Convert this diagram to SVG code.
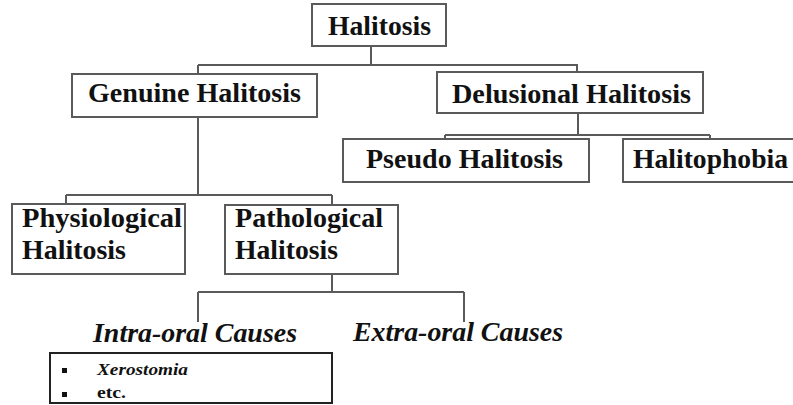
<svg xmlns="http://www.w3.org/2000/svg" width="793" height="405" viewBox="0 0 793 405">
<style>
.box{fill:#fff;stroke:#5a5a5a;stroke-width:2}
.t{font-family:'Liberation Serif','DejaVu Serif','Times New Roman',serif;font-weight:bold;font-size:27px;fill:#111}
.it{font-family:'Liberation Serif','DejaVu Serif','Times New Roman',serif;font-weight:bold;font-style:italic;font-size:27px;fill:#111}
.c{fill:none;stroke:#5a5a5a;stroke-width:2}
.s{font-family:'Liberation Serif','DejaVu Serif','Times New Roman',serif;font-size:16px;fill:#111}
</style>
<rect width="793" height="405" fill="#fff"/>
<g id="connectors">
<path class="c" d="M371 46V65M198 65H577V72M198 65V74"/>
<path class="c" d="M198 117V195M66 195H332M66 195V204M332 195V205"/>
<path class="c" d="M578 113V135M445 135H710M445 135V139M710 135V139"/>
<path class="c" d="M332 274V292M198 292H464M198 292V322M464 292V322"/>
</g>
<g id="halitosis"><rect class="box" x="312" y="4" width="134" height="42"/><text class="t" x="328" y="35" textLength="103" lengthAdjust="spacingAndGlyphs">Halitosis</text></g>
<g id="genuine"><rect class="box" x="72" y="74" width="245" height="43"/><text class="t" x="88" y="102" textLength="213" lengthAdjust="spacingAndGlyphs">Genuine Halitosis</text></g>
<g id="delusional"><rect class="box" x="437" y="72" width="266" height="41"/><text class="t" x="452" y="103" textLength="239" lengthAdjust="spacingAndGlyphs">Delusional Halitosis</text></g>
<g id="pseudo"><rect class="box" x="343" y="139" width="246" height="43"/><text class="t" x="366" y="168" textLength="197" lengthAdjust="spacingAndGlyphs">Pseudo Halitosis</text></g>
<g id="halitophobia"><rect class="box" x="623" y="139" width="176" height="43"/><text class="t" x="633" y="168" textLength="155" lengthAdjust="spacingAndGlyphs">Halitophobia</text></g>
<g id="physiological"><rect class="box" x="12" y="204" width="173" height="70"/><text class="t" x="22" y="227" textLength="160" lengthAdjust="spacingAndGlyphs">Physiological</text><text class="t" x="22" y="259" textLength="104" lengthAdjust="spacingAndGlyphs">Halitosis</text></g>
<g id="pathological"><rect class="box" x="225" y="205" width="173" height="69"/><text class="t" x="235" y="227" textLength="148" lengthAdjust="spacingAndGlyphs">Pathological</text><text class="t" x="235" y="259" textLength="103" lengthAdjust="spacingAndGlyphs">Halitosis</text></g>
<g id="intra"><text class="it" x="93" y="342" textLength="204" lengthAdjust="spacingAndGlyphs">Intra-oral Causes</text></g>
<g id="extra"><text class="it" x="353" y="341" textLength="210" lengthAdjust="spacingAndGlyphs">Extra-oral Causes</text></g>
<g id="list"><rect x="50" y="353" width="282" height="50" fill="#fff" stroke="#222" stroke-width="2"/>
<rect x="62" y="368" width="5" height="5" fill="#111"/><rect x="62" y="392" width="5" height="5" fill="#111"/>
<text class="s" x="97" y="375" font-style="italic" font-weight="bold" textLength="91" lengthAdjust="spacingAndGlyphs">Xerostomia</text><text class="s" x="97" y="398" font-weight="bold" textLength="29" lengthAdjust="spacingAndGlyphs">etc.</text></g>
</svg>
